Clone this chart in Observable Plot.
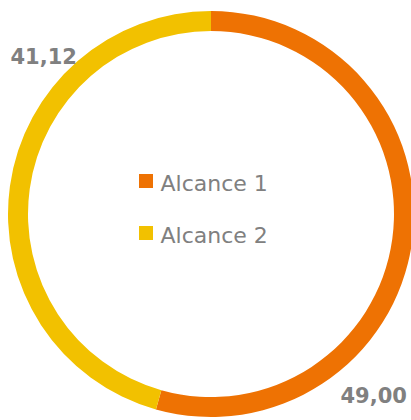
<!DOCTYPE html>
<html>
<head>
<meta charset="utf-8">
<script src="https://cdn.jsdelivr.net/npm/d3@7"></script>
<script src="https://cdn.jsdelivr.net/npm/@observablehq/plot@0.6"></script>
<style>
  html, body { margin: 0; padding: 0; background: #fff; }
</style>
</head>
<body>
<div id="chart"></div>
<script>
const categories = ["Alcance 1", "Alcance 2"];
const values = [49.00, 41.12];
const valueLabels = ["49,00", "41,12"];
const colors = ["#EE7203", "#F2C100"];

const W = 411, H = 420;
const cx = 211, cy = 214, rOuter = 203, rInner = 183;

const data = categories.map((c, i) => ({category: c, value: values[i], label: valueLabels[i]}));

// label anchor positions (layout, left/baseline)
const labelPos = {"Alcance 1": [340, 402], "Alcance 2": [10, 63]};
const legendPos = {"Alcance 1": [139, 174], "Alcance 2": [139, 226]};

function donut(index, scales, values_, dims) {
  const pie = d3.pie().sort(null).value(d => d.value)(data);
  const arc = d3.arc().innerRadius(rInner).outerRadius(rOuter);
  const g = d3.create("svg:g")
    .attr("transform", `translate(${scales.x(cx)},${scales.y(cy)})`);
  g.selectAll("path").data(pie).join("path")
    .attr("d", arc)
    .attr("fill", d => scales.color(d.data.category));
  return g.node();
}

const chart = Plot.plot({
  width: W, height: H,
  margin: 0,
  x: {domain: [0, W], range: [0, W], axis: null},
  y: {domain: [0, H], range: [0, H], axis: null},
  color: {domain: categories, range: colors},
  style: {background: "#fff"},
  marks: [
    donut,
    Plot.text(data, {
      x: d => labelPos[d.category][0], y: d => labelPos[d.category][1],
      text: "label", textAnchor: "start", lineAnchor: "bottom",
      fill: "#808080", fontSize: 21, fontWeight: "bold",
      fontFamily: "DejaVu Sans"
    }),
    Plot.rect(data, {
      x1: d => legendPos[d.category][0], x2: d => legendPos[d.category][0] + 14,
      y1: d => legendPos[d.category][1], y2: d => legendPos[d.category][1] + 14,
      fill: "category"
    }),
    Plot.text(data, {
      x: d => legendPos[d.category][0] + 21, y: d => legendPos[d.category][1] + 16,
      text: "category", textAnchor: "start", lineAnchor: "bottom",
      fill: "#808080", fontSize: 22, fontFamily: "DejaVu Sans"
    })
  ]
});
document.getElementById("chart").appendChild(chart);
</script>
</body>
</html>
